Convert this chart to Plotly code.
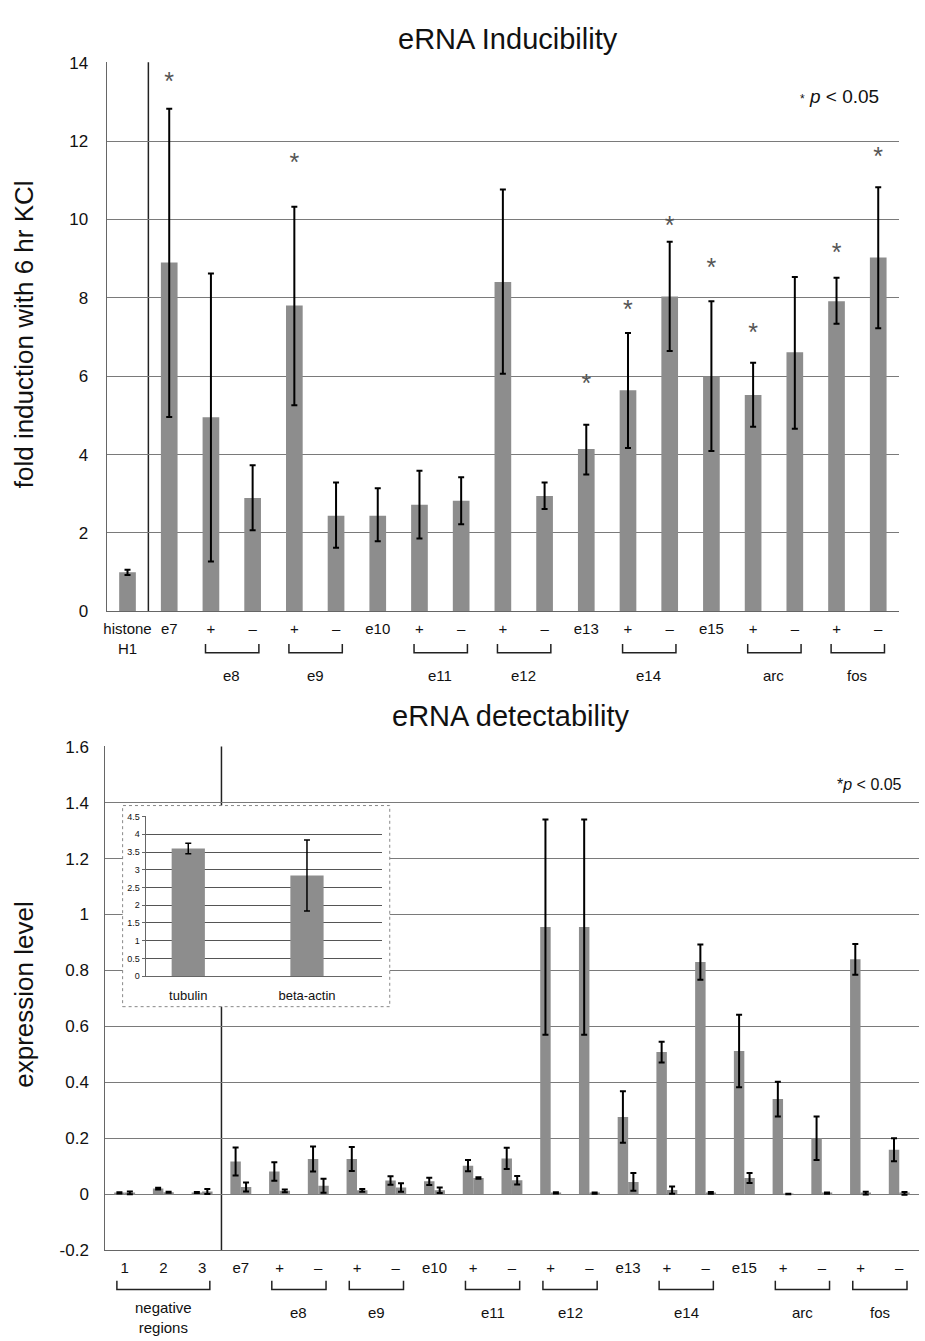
import plotly.graph_objects as go

W, H = 925, 1341

# ---------------- data: eRNA Inducibility ----------------
top_labels = ["histone<br>H1", "e7", "+", "–", "+", "–", "e10", "+", "–", "+", "–",
              "e13", "+", "–", "e15", "+", "–", "+", "–"]
top_values = [1.0, 8.9, 4.95, 2.89, 7.8, 2.44, 2.44, 2.72, 2.82, 8.4, 2.94,
              4.14, 5.64, 8.03, 5.99, 5.52, 6.61, 7.91, 9.03]
top_err_hi = [1.06, 12.82, 8.62, 3.73, 10.32, 3.29, 3.14, 3.59, 3.42, 10.76, 3.29,
              4.76, 7.10, 9.43, 7.91, 6.34, 8.53, 8.51, 10.82]
top_err_lo = [0.93, 4.96, 1.27, 2.07, 5.26, 1.62, 1.79, 1.86, 2.22, 6.06, 2.61,
              3.49, 4.17, 6.64, 4.09, 4.71, 4.66, 7.34, 7.22]
top_star_y = [None, 13.45, None, None, 11.4, None, None, None, None, None, None,
              5.76, 7.65, 9.78, 8.71, 7.06, None, 9.11, 11.55]
top_groups = [("e8", 2, 3), ("e9", 4, 5), ("e11", 7, 8), ("e12", 9, 10),
              ("e14", 12, 13), ("arc", 15, 16), ("fos", 17, 18)]
top_yticks = [0, 2, 4, 6, 8, 10, 12, 14]

# ---------------- data: eRNA detectability ----------------
bot_labels = ["1", "2", "3", "e7", "+", "–", "+", "–", "e10", "+", "–", "+", "–",
              "e13", "+", "–", "e15", "+", "–", "+", "–"]
bot_a = [0.005, 0.02, 0.006, 0.117, 0.081, 0.126, 0.126, 0.049, 0.046, 0.102, 0.128,
         0.955, 0.955, 0.276, 0.508, 0.83, 0.512, 0.34, 0.2, 0.84, 0.159]
bot_a_err = [0.002, 0.003, 0.002, 0.05, 0.033, 0.045, 0.043, 0.015, 0.013, 0.02, 0.038,
             0.385, 0.385, 0.092, 0.037, 0.063, 0.13, 0.062, 0.078, 0.055, 0.041]
bot_b = [0.005, 0.007, 0.01, 0.026, 0.012, 0.03, 0.014, 0.024, 0.014, 0.058, 0.05,
         0.005, 0.004, 0.044, 0.015, 0.005, 0.058, 0.001, 0.004, 0.004, 0.003]
bot_b_err = [0.005, 0.002, 0.009, 0.016, 0.005, 0.025, 0.005, 0.015, 0.01, 0.003, 0.015,
             0.002, 0.002, 0.032, 0.013, 0.003, 0.018, 0.001, 0.002, 0.005, 0.005]
bot_groups = [("negative<br>regions", 0, 2), ("e8", 4, 5), ("e9", 6, 7), ("e11", 9, 10),
              ("e12", 11, 12), ("e14", 14, 15), ("arc", 17, 18), ("fos", 19, 20)]
bot_yticks = [-0.2, 0, 0.2, 0.4, 0.6, 0.8, 1.0, 1.2, 1.4, 1.6]
bot_yticktext = ["-0.2", "0", "0.2", "0.4", "0.6", "0.8", "1", "1.2", "1.4", "1.6"]

# ---------------- data: inset ----------------
inset_labels = ["tubulin", "beta-actin"]
inset_values = [3.6, 2.84]
inset_err = [0.15, 1.0]
inset_yticks = [0, 0.5, 1, 1.5, 2, 2.5, 3, 3.5, 4, 4.5]

BAR = "#8d8d8d"
GRID = "#7a7a7a"
FONT = "Liberation Sans, Arial, sans-serif"
NARROW = "Liberation Sans Narrow, Arial Narrow, Liberation Sans, sans-serif"


def px_x(p):
    return p / W


def px_y(p):
    return 1 - p / H


top_x = list(range(len(top_labels)))
bot_x = list(range(len(bot_labels)))
ins_x = list(range(len(inset_labels)))

fig = go.Figure()

fig.add_trace(go.Bar(
    x=top_x, y=top_values, width=0.4, marker=dict(color=BAR, line=dict(width=0)),
    error_y=dict(type="data", symmetric=False,
                 array=[h - v for h, v in zip(top_err_hi, top_values)],
                 arrayminus=[v - l for l, v in zip(top_err_lo, top_values)],
                 color="black", thickness=2, width=3),
    xaxis="x", yaxis="y", showlegend=False))

star_x = [x for x, s in zip(top_x, top_star_y) if s is not None]
star_y = [s for s in top_star_y if s is not None]
fig.add_trace(go.Scatter(
    x=star_x, y=star_y, mode="text", text=["*"] * len(star_x),
    textfont=dict(size=25, color="#555", family=FONT), textposition="middle center",
    xaxis="x", yaxis="y", showlegend=False, cliponaxis=False))

fig.add_trace(go.Bar(
    x=bot_x, y=bot_a, width=0.27, offset=-0.27, marker=dict(color=BAR, line=dict(width=0)),
    error_y=dict(type="data", array=bot_a_err, color="black", thickness=2, width=3),
    xaxis="x2", yaxis="y2", showlegend=False))
fig.add_trace(go.Bar(
    x=bot_x, y=bot_b, width=0.27, offset=0.0, marker=dict(color=BAR, line=dict(width=0)),
    error_y=dict(type="data", array=bot_b_err, color="black", thickness=2, width=3),
    xaxis="x2", yaxis="y2", showlegend=False))

# blank box subplot (white background of the inset)
fig.add_trace(go.Scatter(x=[0], y=[0], mode="markers", marker=dict(opacity=0),
                         xaxis="x3", yaxis="y3", showlegend=False, hoverinfo="skip"))

fig.add_trace(go.Bar(
    x=ins_x, y=inset_values, width=0.28, marker=dict(color=BAR, line=dict(width=0)),
    error_y=dict(type="data", array=inset_err, color="black", thickness=1.5, width=3),
    xaxis="x4", yaxis="y4", showlegend=False))

shapes = []
annotations = []


def bracket(xref, a, b, y_top, y_bot):
    return dict(type="path", xref=xref, yref="paper",
                path=f"M {a} {y_top} L {a} {y_bot} L {b} {y_bot} L {b} {y_top}",
                line=dict(color="#222", width=1.5))


for name, i0, i1 in top_groups:
    shapes.append(bracket("x", i0 - 0.13, i1 + 0.15, px_y(644), px_y(653)))
    annotations.append(dict(x=(i0 + i1) / 2, y=px_y(676), xref="x", yref="paper",
                            xanchor="center", yanchor="middle",
                            text=name, showarrow=False,
                            font=dict(size=15, family=NARROW, color="#111")))

for name, i0, i1 in bot_groups:
    shapes.append(bracket("x2", i0 - 0.2, i1 + 0.2, px_y(1290), px_y(1299)))
    two = "<br>" in name
    annotations.append(dict(x=(i0 + i1) / 2, y=px_y(1327 if two else 1322), xref="x2", yref="paper",
                            xanchor="center", yanchor="middle",
                            text=name, showarrow=False,
                            font=dict(size=15, family=NARROW, color="#111")))

# separators (from the top gridline down to the axis)
shapes.append(dict(type="line", xref="x", yref="paper", x0=0.5, x1=0.5,
                   y0=px_y(611), y1=px_y(54), line=dict(color="#222", width=1.5), layer="below"))
shapes.append(dict(type="line", xref="x2", yref="paper", x0=2.5, x1=2.5,
                   y0=px_y(1259), y1=px_y(748), line=dict(color="#222", width=1.5), layer="below"))

# inset border
shapes.append(dict(type="rect", xref="x3 domain", yref="y3 domain", x0=0, x1=1, y0=0, y1=1,
                   line=dict(color="#888", width=1, dash="dot"), layer="above"))


def label(x, y, text, size, angle=0, xanchor="center"):
    return dict(x=px_x(x), y=px_y(y), xref="paper", yref="paper", text=text,
                textangle=angle, showarrow=False, xanchor=xanchor, yanchor="middle",
                font=dict(size=size, family=FONT, color="#111"))


annotations.append(label(507, 30, "eRNA Inducibility", 29))
annotations.append(label(509, 717, "eRNA detectability", 29))
annotations.append(label(21, 330, "fold induction with 6 hr KCl", 26, -90))
annotations.append(label(21, 1000, "expression level", 26, -90))
annotations.append(label(881, 89, "<span style='font-size:12px'>*</span> <i>p</i> < 0.05",
                         19, xanchor="right"))
annotations.append(label(904, 787, "*<i>p</i> < 0.05", 16, xanchor="right"))

axis_common = dict(showgrid=False, zeroline=False, fixedrange=True)

fig.update_layout(
    width=W, height=H, margin=dict(l=0, r=0, t=0, b=0),
    paper_bgcolor="white", plot_bgcolor="white",
    barmode="overlay", showlegend=False,
    font=dict(family=FONT, color="#111"),
    xaxis=dict(domain=[px_x(104), px_x(899)], range=[-0.5, len(top_labels) - 0.5],
               tickmode="array", tickvals=top_x, ticktext=top_labels,
               tickfont=dict(size=15, family=NARROW, color="#111"),
               ticks="outside", ticklen=4, tickcolor="rgba(0,0,0,0)",
               showline=True, linecolor="#666", linewidth=1, anchor="y", **axis_common),
    yaxis=dict(domain=[px_y(611), px_y(54)], range=[0, 14.01],
               tickmode="array", tickvals=top_yticks,
               showgrid=True, gridcolor=GRID, gridwidth=1,
               tickfont=dict(size=17, family=FONT, color="#111"),
               ticks="outside", ticklen=14, tickcolor="rgba(0,0,0,0)",
               showline=True, linecolor="#666", linewidth=1, anchor="x",
               zeroline=False, fixedrange=True),
    xaxis2=dict(domain=[px_x(102.6), px_x(918.6)], range=[-0.5, len(bot_labels) - 0.5],
                tickmode="array", tickvals=bot_x, ticktext=bot_labels,
                tickfont=dict(size=15, family=NARROW, color="#111"),
                ticks="outside", ticklen=4, tickcolor="rgba(0,0,0,0)",
                showline=True, linecolor="#666", linewidth=1, anchor="y2", **axis_common),
    yaxis2=dict(domain=[px_y(1259), px_y(748)], range=[-0.2, 1.601],
                tickmode="array", tickvals=bot_yticks, ticktext=bot_yticktext,
                showgrid=True, gridcolor=GRID, gridwidth=1,
                tickfont=dict(size=17, family=FONT, color="#111"),
                ticks="outside", ticklen=12, tickcolor="rgba(0,0,0,0)",
                showline=True, linecolor="#666", linewidth=1, anchor="x2",
                zeroline=False, fixedrange=True),
    xaxis3=dict(domain=[px_x(120), px_x(388)], range=[0, 1], visible=False, anchor="y3",
                **axis_common),
    yaxis3=dict(domain=[px_y(1012), px_y(808)], range=[0, 1], visible=False, anchor="x3",
                **axis_common),
    xaxis4=dict(domain=[px_x(143), px_x(380)], range=[-0.36, 1.63],
                tickmode="array", tickvals=ins_x, ticktext=inset_labels,
                tickfont=dict(size=13, family=FONT, color="#111"),
                ticks="outside", ticklen=7, tickcolor="rgba(0,0,0,0)",
                showline=True, linecolor="#666", linewidth=1, anchor="y4", **axis_common),
    yaxis4=dict(domain=[px_y(981), px_y(819)], range=[0, 4.505],
                tickmode="array", tickvals=inset_yticks,
                showgrid=True, gridcolor="#555", gridwidth=1,
                tickfont=dict(size=9, family=FONT, color="#111"),
                ticks="outside", ticklen=3, tickcolor="#666",
                showline=True, linecolor="#666", linewidth=1, anchor="x4",
                zeroline=False, fixedrange=True),
    shapes=shapes, annotations=annotations,
)

fig.write_html("out.html")
